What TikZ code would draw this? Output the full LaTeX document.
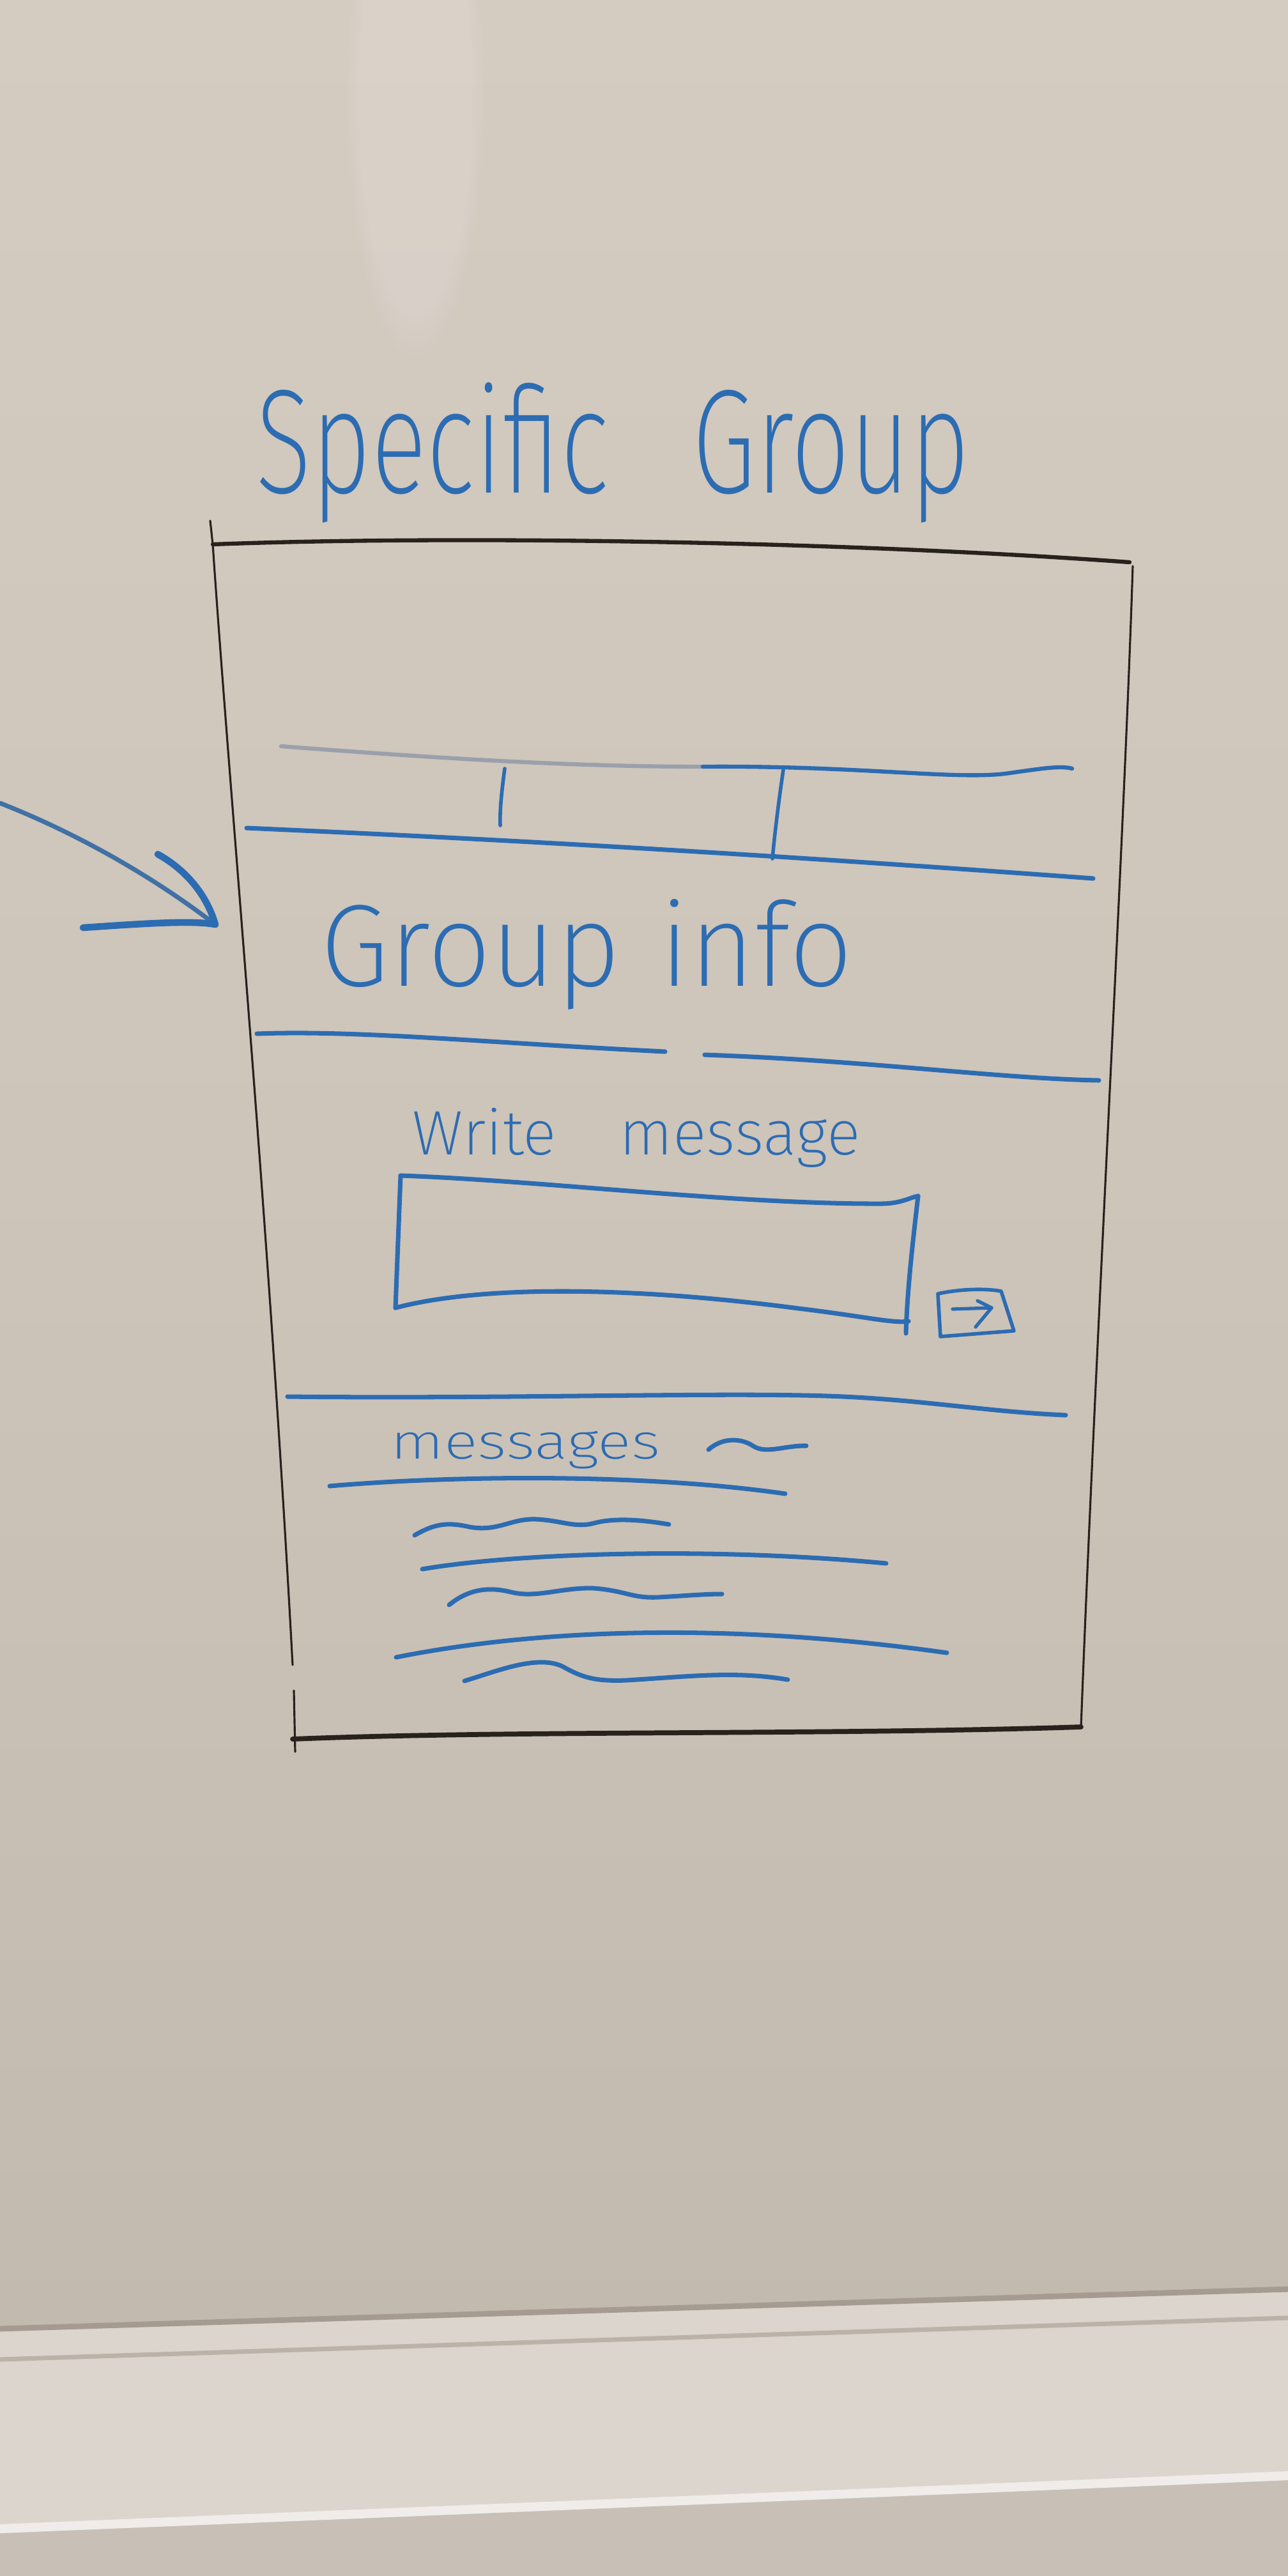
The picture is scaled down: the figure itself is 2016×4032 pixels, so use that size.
\documentclass[tikz,border=0pt]{standalone}
\usepackage{fontspec}
\IfFontExistsTF{Fira Sans ExtraLight}
  {\newfontfamily\hand{Fira Sans ExtraLight}}
  {\IfFontExistsTF{Fira Sans Light}
     {\newfontfamily\hand{Fira Sans Light}}
     {\newfontfamily\hand{Fira Sans}}}
\usetikzlibrary{calc,fadings}

\definecolor{marker}{RGB}{44,108,178}
\definecolor{markerfaint}{RGB}{120,135,160}
\definecolor{ink}{RGB}{40,34,28}
\definecolor{boardtop}{RGB}{212,203,193}
\definecolor{boardmid}{RGB}{205,196,186}
\definecolor{boardlow}{RGB}{195,186,175}
\definecolor{tray}{RGB}{220,213,205}
\definecolor{trayshadow}{RGB}{165,155,144}
\definecolor{traylow}{RGB}{200,192,183}

\begin{document}
\begin{tikzpicture}[x=0.01cm,y=-0.01cm,
  mline/.style={draw=marker,line width=2pt,line cap=round,line join=round},
  boxline/.style={draw=ink,line width=0.9pt,line cap=round,line join=round},
  heavyline/.style={draw=ink,line width=2.2pt,line cap=round,line join=round},
  handtext/.style={text=marker,inner sep=0pt,font=\hand}]

% ---- whiteboard surface ----
\useasboundingbox (0,0) rectangle (2016,4032);
\shade[top color=boardtop, bottom color=boardlow, middle color=boardmid]
  (0,0) rectangle (2016,3650);
\fill[white, opacity=0.14, path fading=circle with fuzzy edge 20 percent]
  (650,150) ellipse (110 and 420);

% ---- marker tray at the bottom ----
\fill[tray] (0,3645) -- (2016,3583) -- (2016,4032) -- (0,4032) -- cycle;
\fill[traylow] (0,3962) -- (2016,3878) -- (2016,4032) -- (0,4032) -- cycle;
\draw[trayshadow, line width=2.5pt] (0,3645) -- (2016,3583);
\draw[trayshadow!60!tray, line width=2pt] (0,3693) -- (2016,3628);
\draw[white!55!tray, line width=4pt] (0,3958) -- (2016,3875);

% ---- title ----
\node[handtext, anchor=base west, xscale=0.70,
      font=\hand\fontsize{66}{70}\selectfont] (title) at (400,771)
  {Specific\hspace{0.8em}Group};

% ---- phone frame ----
\coordinate (fTL) at (329,815);
\coordinate (fTR) at (1768,880);
\coordinate (fBR) at (1692,2703);
\coordinate (fBL) at (462,2742);
\draw[heavyline, line width=1.8pt] (333,852) .. controls (700,838) and (1300,846) .. (fTR);
\draw[boxline] (fTL) -- (333,852) .. controls (360,1250) and (420,1900) .. (458,2606);
\draw[boxline] (460,2646) -- (fBL);
\draw[boxline] (1773,886) .. controls (1760,1300) and (1715,2100) .. (fBR);
\draw[heavyline] (458,2722) .. controls (800,2708) and (1300,2716) .. (fBR);

% ---- tab bar ----
\coordinate (tabL) at (440,1168);
\coordinate (tabR) at (1678,1203);
\draw[draw=markerfaint, line width=1.8pt, line cap=round, opacity=0.6]
  (tabL) .. controls (700,1188) and (900,1200) .. (1100,1200);
\draw[mline, line width=1.8pt] (1100,1200) .. controls (1350,1198) and (1500,1222) .. (1580,1210)
  .. controls (1630,1203) and (1660,1198) .. (tabR);
\draw[mline, line width=1.6pt] (790,1203) .. controls (785,1240) and (782,1270) .. (783,1292);
\draw[mline, line width=1.6pt] (1226,1205) .. controls (1218,1260) and (1212,1310) .. (1209,1344);
\draw[mline] (386,1296) .. controls (700,1310) and (1100,1330) .. (1711,1375);

% ---- pointer arrow coming in from the left ----
\coordinate (arrowStart) at (0,1257);
\coordinate (arrowTip) at (337,1447);
\draw[draw=marker!75!gray, line width=2pt, line cap=round]
  (arrowStart) .. controls (110,1300) and (230,1365) .. (arrowTip);
\draw[mline, line width=3pt] (247,1337) .. controls (285,1358) and (322,1395) .. (arrowTip);
\draw[mline, line width=3pt] (130,1452) .. controls (220,1446) and (300,1440) .. (arrowTip);

% ---- group info ----
\node[handtext, anchor=base west, xscale=0.96,
      font=\hand\fontsize{52}{56}\selectfont] (info) at (501,1543)
  {Group\hspace{0.35em}info};
\draw[mline] (402,1618) .. controls (560,1612) and (760,1632) .. (1041,1646);
\draw[mline] (1103,1651) .. controls (1360,1660) and (1560,1688) .. (1720,1691);

% ---- compose area ----
\node[handtext, anchor=base west,
      font=\hand\fontsize{28}{32}\selectfont] (write) at (645,1807)
  {Write\hspace{1em}message};
\coordinate (inTL) at (627,1840);
\coordinate (inTR) at (1437,1872);
\coordinate (inBR) at (1418,2087);
\coordinate (inBL) at (619,2047);
\draw[mline] (inTL) .. controls (850,1848) and (1150,1885) .. (1380,1884)
  .. controls (1410,1884) and (1425,1874) .. (inTR);
\draw[mline] (inTL) -- (inBL);
\draw[mline] (inBL) .. controls (760,2010) and (1000,2015) .. (1250,2048)
  .. controls (1350,2060) and (1400,2072) .. (1422,2068);
\draw[mline] (inTR) .. controls (1428,1950) and (1420,2020) .. (inBR);

% send button
\coordinate (sTL) at (1468,2025);
\coordinate (sTR) at (1567,2021);
\coordinate (sBR) at (1587,2083);
\coordinate (sBL) at (1472,2092);
\draw[mline, line width=1.6pt] (sTL) .. controls (1500,2018) and (1540,2016) .. (sTR)
  -- (sBR) -- (sBL) -- cycle;
\coordinate (sendA) at (1491,2049);
\coordinate (sendB) at (1552,2047);
\draw[mline, line width=1.5pt] (sendA) -- (sendB);
\draw[mline, line width=1.5pt] (1530,2036) -- (sendB) -- (1527,2077);

% ---- message list ----
\draw[mline] (450,2186) .. controls (800,2190) and (1150,2178) .. (1320,2186)
  .. controls (1450,2192) and (1550,2210) .. (1668,2215);
\node[handtext, anchor=base west, xscale=1.27,
      font=\hand\fontsize{22}{26}\selectfont] (msgs) at (611,2283)
  {messages};
\draw[mline] (1109,2269) .. controls (1130,2250) and (1160,2250) .. (1180,2264)
  .. controls (1200,2276) and (1230,2262) .. (1262,2263);
\draw[mline] (516,2326) .. controls (700,2310) and (1000,2305) .. (1229,2338);

\draw[mline] (649,2403) .. controls (680,2385) and (700,2382) .. (735,2390)
  .. controls (780,2398) and (800,2376) .. (840,2378)
  .. controls (880,2380) and (900,2392) .. (930,2384)
  .. controls (960,2376) and (1000,2378) .. (1047,2386);
\draw[mline] (661,2456) .. controls (800,2432) and (1100,2420) .. (1387,2447);

\draw[mline] (703,2512) .. controls (730,2490) and (760,2482) .. (800,2492)
  .. controls (840,2502) and (880,2484) .. (930,2486)
  .. controls (980,2490) and (990,2502) .. (1030,2500)
  .. controls (1070,2498) and (1100,2495) .. (1130,2495);
\draw[mline] (620,2594) .. controls (850,2548) and (1150,2540) .. (1482,2587);

\draw[mline] (727,2631) .. controls (780,2615) and (840,2590) .. (880,2608)
  .. controls (910,2625) and (930,2632) .. (980,2630)
  .. controls (1080,2624) and (1150,2615) .. (1233,2629);

\end{tikzpicture}
\end{document}
